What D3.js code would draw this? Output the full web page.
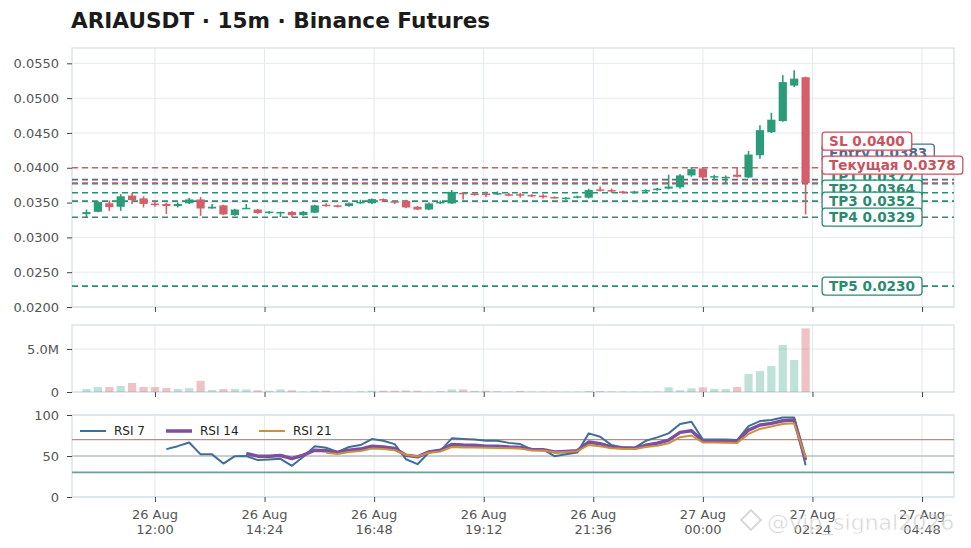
<!DOCTYPE html>
<html><head><meta charset="utf-8">
<script src="https://cdn.jsdelivr.net/npm/d3@7"></script>
<style>
body{margin:0;background:#fff;}
svg{display:block;font-family:"DejaVu Sans",sans-serif;}
</style>
</head><body>
<svg id="chart" width="971" height="548"></svg>
<script>
// ---------------- DATA ----------------
const titleText = "ARIAUSDT · 15m · Binance Futures";
const candleTimes = [
"2025-08-26 10:30","2025-08-26 10:45","2025-08-26 11:00","2025-08-26 11:15","2025-08-26 11:30","2025-08-26 11:45",
"2025-08-26 12:00","2025-08-26 12:15","2025-08-26 12:30","2025-08-26 12:45","2025-08-26 13:00","2025-08-26 13:15",
"2025-08-26 13:30","2025-08-26 13:45","2025-08-26 14:00","2025-08-26 14:15","2025-08-26 14:30","2025-08-26 14:45",
"2025-08-26 15:00","2025-08-26 15:15","2025-08-26 15:30","2025-08-26 15:45","2025-08-26 16:00","2025-08-26 16:15",
"2025-08-26 16:30","2025-08-26 16:45","2025-08-26 17:00","2025-08-26 17:15","2025-08-26 17:30","2025-08-26 17:45",
"2025-08-26 18:00","2025-08-26 18:15","2025-08-26 18:30","2025-08-26 18:45","2025-08-26 19:00","2025-08-26 19:15",
"2025-08-26 19:30","2025-08-26 19:45","2025-08-26 20:00","2025-08-26 20:15","2025-08-26 20:30","2025-08-26 20:45",
"2025-08-26 21:00","2025-08-26 21:15","2025-08-26 21:30","2025-08-26 21:45","2025-08-26 22:00","2025-08-26 22:15",
"2025-08-26 22:30","2025-08-26 22:45","2025-08-26 23:00","2025-08-26 23:15","2025-08-26 23:30","2025-08-26 23:45",
"2025-08-27 00:00","2025-08-27 00:15","2025-08-27 00:30","2025-08-27 00:45","2025-08-27 01:00","2025-08-27 01:15",
"2025-08-27 01:30","2025-08-27 01:45","2025-08-27 02:00","2025-08-27 02:15"];

const opens = [0.03334,0.03367,0.0349,0.0344,0.0360,0.0356,0.03485,0.0348,0.0345,0.0349,
0.03545,0.03415,0.0346,0.0332,0.0341,0.0340,0.0335,0.0335,0.03365,0.0332,
0.03355,0.0347,0.0346,0.0345,0.0349,0.0349,0.0355,0.0352,0.03525,0.0344,
0.0340,0.0349,0.03487,0.0364,0.0363,0.0363,0.0362,0.0362,0.0362,0.0361,
0.0360,0.0358,0.0355,0.0357,0.0357,0.0369,0.0368,0.0366,0.0364,0.0366,
0.0368,0.0370,0.0372,0.0389,0.0399,0.0386,0.0386,0.0390,0.0386,0.0418,
0.0451,0.0467,0.0518,0.0530];
const highs = [0.0340,0.0352,0.0353,0.0362,0.0364,0.0359,0.0353,0.0350,0.0350,0.0357,
0.0358,0.0348,0.0347,0.0341,0.0348,0.0341,0.0338,0.0337,0.0338,0.0338,
0.0347,0.0349,0.0347,0.0350,0.0354,0.0356,0.0356,0.0353,0.0354,0.0345,
0.0350,0.0353,0.0368,0.0365,0.0365,0.0366,0.0366,0.0364,0.0364,0.0362,
0.0362,0.0359,0.0358,0.0360,0.0370,0.0373,0.0370,0.0367,0.0367,0.0369,
0.0371,0.0390,0.0391,0.0401,0.0400,0.0390,0.0389,0.0400,0.0424,0.0461,
0.0479,0.0533,0.0540,0.0531];
const lows = [0.0329,0.0336,0.0338,0.0338,0.0348,0.0343,0.0344,0.03335,0.0343,0.0348,
0.0331,0.0341,0.0332,0.0331,0.0341,0.0334,0.0334,0.0329,0.0329,0.0331,
0.0335,0.0344,0.0343,0.0344,0.0348,0.0348,0.0351,0.0348,0.0342,0.0339,
0.0339,0.0348,0.0348,0.03545,0.0360,0.0358,0.0361,0.0359,0.0357,0.0358,
0.0356,0.0356,0.0354,0.0356,0.0356,0.0366,0.0364,0.0363,0.0363,0.0365,
0.0367,0.0369,0.0370,0.0387,0.0384,0.0383,0.0377,0.0386,0.0385,0.0413,
0.0450,0.0466,0.0516,0.0333];
const closes = [0.03363,0.0351,0.03435,0.0359,0.03535,0.0348,0.03475,0.0345,0.0348,0.03545,
0.03415,0.0344,0.0333,0.0340,0.03425,0.0335,0.0337,0.03365,0.0332,0.03367,
0.0346,0.0345,0.0344,0.0349,0.0351,0.0355,0.0353,0.0351,0.0343,0.0340,
0.03487,0.0351,0.03654,0.0362,0.0362,0.0361,0.03637,0.0361,0.0360,0.0359,
0.0358,0.0357,0.0357,0.0359,0.0368,0.0368,0.0366,0.0364,0.0366,0.0368,
0.0370,0.0373,0.0389,0.0398,0.0386,0.0388,0.0387,0.0387,0.0419,0.0454,
0.0469,0.0523,0.0528,0.0378];
// volume in millions
const volumesM = [0.35,0.58,0.58,0.70,1.05,0.58,0.58,0.47,0.35,0.45,
1.30,0.23,0.35,0.35,0.30,0.20,0.15,0.30,0.20,0.05,
0.15,0.15,0.05,0.05,0.08,0.15,0.15,0.15,0.18,0.15,
0.05,0.10,0.30,0.30,0.12,0.15,0.10,0.05,0.12,0.06,
0.05,0.05,0.03,0.04,0.12,0.10,0.06,0.05,0.05,0.05,
0.06,0.55,0.20,0.43,0.55,0.35,0.35,0.58,2.10,2.44,
3.02,5.47,3.72,7.40];

const rsi7 = [null,null,null,null,null,null,null,58.4,62,66.5,
52,52,40.8,49.8,50,45,45.7,46.5,38,49,
62,60,55,61,63.3,70.6,68.5,64.5,46,40,
54.3,56.3,71.5,70.6,70,68.5,68.5,66,64.5,58,
58,49.8,52,54.3,77.6,73.4,63.3,60,60,68.5,
72.7,77.6,89,91.8,70,70,70,69.4,86.5,92.6,
93.9,97,97,38.8];
const rsi14 = [null,null,null,null,null,null,null,null,null,null,
null,null,null,null,53,49.8,49.8,50.6,47,51,
57,56.3,54.3,57,58.4,62,61,59.2,51,49,
55,57,64,63.3,63,62,62,61,60.5,58,
57.6,55,55.6,56.5,67,65,61,60,59.5,63,
65.5,69.4,78.8,80.8,68.5,68.5,68.3,68,81.6,87.8,
89.8,93,93.9,45];
const rsi21 = [null,null,null,null,null,null,null,null,null,null,
null,null,null,null,null,null,null,null,null,null,
null,54,52.5,55,56,59,58.5,57,51.5,49.5,
54,55.5,61,60.5,60.3,60,59.8,59.3,59,57,
56.8,54.5,55,55.8,63.5,62,59.5,58.8,58.5,61,
62.5,65.5,73,75,66.5,66.5,66.3,66,77,83,
86,89,90,48];

const levelNames  = ["Entry","TP1","TP2","TP3","TP4","TP5","SL","Текущая"];
const levelValues = [0.0383,0.0377,0.0364,0.0352,0.0329,0.0230,0.0400,0.0378];
const levelKinds  = ["entry","tp","tp","tp","tp","tp","sl","cur"];

const xTickTimes = ["2025-08-26 12:00","2025-08-26 14:24","2025-08-26 16:48","2025-08-26 19:12",
                    "2025-08-26 21:36","2025-08-27 00:00","2025-08-27 02:24","2025-08-27 04:48"];
const xDomainTimes = ["2025-08-26 10:11","2025-08-27 05:30"];
const priceTicks = [0.020,0.025,0.030,0.035,0.040,0.045,0.050,0.055];
const priceDomain = [0.020,0.0572];
const volumeTicks = [0,5];
const volumeDomainMax = 7.79;
const rsiTicks = [0,50,100];
const rsiLevels = [70,50,30];
const rsiNames = ["RSI 7","RSI 14","RSI 21"];
const watermarkText = "@vip_signal2026";

// ---------------- STYLE ----------------
const UP = "#2b9b7a", DOWN = "#d45e69";
const GRID = "#e3e9ee", BORDER = "#d3dce3", TICKTXT = "#555";
const kindColor = {entry:"#4f6c98", tp:"#2b8b70", sl:"#c9545f", cur:"#c9545f"};
const lineColor = {entry:"#56698a", tp:"#2e8c72", sl:"#c8616b", cur:"#c25a64"};
const rsiColors = ["#3f6f97","#7e4f9c","#c89142"];
const rsiWidths = [2,3.5,2];
const rsiLevelColors = ["#c98484","#9ea9b1","#6b9e95"];
const rsiLevelWidths = [1.4,1.2,1.8];

// ---------------- LAYOUT ----------------
const L = 72, R = 954;
const P_MAIN = {top:48, bottom:307};
const P_VOL  = {top:325, bottom:392};
const P_RSI  = {top:415, bottom:497};

const parse = d3.utcParse("%Y-%m-%d %H:%M");
const times = candleTimes.map(parse);
const xTicks = xTickTimes.map(parse);
const x = d3.scaleUtc().domain(xDomainTimes.map(parse)).range([L, R]);
const y = d3.scaleLinear().domain(priceDomain).range([P_MAIN.bottom, P_MAIN.top]);
const yv = d3.scaleLinear().domain([0, volumeDomainMax]).range([P_VOL.bottom, P_VOL.top]);
const yr = d3.scaleLinear().domain([0,100]).range([P_RSI.bottom, P_RSI.top]);

const step = x(times[1]) - x(times[0]);
const cw = step * 0.72;

const svg = d3.select("#chart");
svg.append("rect").attr("width",971).attr("height",548).attr("fill","#fff");

// title
svg.append("text").attr("x",71).attr("y",28)
  .attr("font-size",21.6).attr("font-weight","bold").attr("fill","#1b1b1b")
  .text(titleText);

function panelFrame(p, yScale, yTicks, fmt){
  const g = svg.append("g");
  g.selectAll(".gx").data(xTicks).join("line")
    .attr("x1",d=>x(d)).attr("x2",d=>x(d)).attr("y1",p.top).attr("y2",p.bottom)
    .attr("stroke",GRID).attr("stroke-width",1);
  g.selectAll(".gy").data(yTicks).join("line")
    .attr("x1",L).attr("x2",R).attr("y1",d=>yScale(d)).attr("y2",d=>yScale(d))
    .attr("stroke",GRID).attr("stroke-width",1);
  g.append("rect").attr("x",L).attr("y",p.top).attr("width",R-L).attr("height",p.bottom-p.top)
    .attr("fill","none").attr("stroke",BORDER).attr("stroke-width",1.2);
  const ay = svg.append("g").attr("transform",`translate(${L},0)`)
    .call(d3.axisLeft(yScale).tickValues(yTicks).tickFormat(fmt).tickSize(5).tickPadding(8));
  ay.select(".domain").remove();
  ay.selectAll("line").attr("stroke","#444").attr("stroke-width",1);
  ay.selectAll("text").attr("fill",TICKTXT).attr("font-size",13).attr("font-family","DejaVu Sans");
  const ax = svg.append("g").attr("transform",`translate(0,${p.bottom})`)
    .call(d3.axisBottom(x).tickValues(xTicks).tickFormat("").tickSize(5));
  ax.select(".domain").remove();
  ax.selectAll("line").attr("stroke","#444").attr("stroke-width",1);
  return g;
}

panelFrame(P_MAIN, y, priceTicks, d3.format(".4f"));
panelFrame(P_VOL, yv, volumeTicks, d=> d===0 ? "0" : d3.format(".1f")(d)+"M");
panelFrame(P_RSI, yr, rsiTicks, d3.format("d"));

// ---------- level lines ----------
const levels = levelNames.map((n,i)=>({name:n, value:levelValues[i], kind:levelKinds[i]}));
svg.append("g").selectAll("line").data(levels).join("line")
  .attr("x1",L).attr("x2",R).attr("y1",d=>y(d.value)).attr("y2",d=>y(d.value))
  .attr("stroke",d=>lineColor[d.kind]).attr("stroke-width",1.6)
  .attr("stroke-dasharray","6,4");

// ---------- candles ----------
const candles = times.map((t,i)=>({t, o:opens[i], h:highs[i], l:lows[i], c:closes[i], v:volumesM[i]}));
const cg = svg.append("g");
cg.selectAll("line").data(candles).join("line")
  .attr("x1",d=>x(d.t)).attr("x2",d=>x(d.t))
  .attr("y1",d=>y(d.h)).attr("y2",d=>y(d.l))
  .attr("stroke",d=>d.c>=d.o?UP:DOWN).attr("stroke-width",1.6);
cg.selectAll("rect").data(candles).join("rect")
  .attr("x",d=>x(d.t)-cw/2).attr("width",cw)
  .attr("y",d=>y(Math.max(d.o,d.c)))
  .attr("height",d=>Math.max(1.5, Math.abs(y(d.o)-y(d.c))))
  .attr("fill",d=>d.c>=d.o?UP:DOWN);

// ---------- level labels ----------
const lastX = x(times[times.length-1]);
const labelX = lastX + 16.5;
const gap = 12;
const order = levels.slice().sort((a,b)=>a.value-b.value);
let prev = null;
order.forEach(d=>{
  const yy = y(d.value);
  d.ly = prev===null ? yy : Math.min(yy, prev - gap);
  prev = d.ly;
});
const lg = svg.append("g");
levels.forEach(d=>{
  const g = lg.append("g");
  const txt = `${d.name} ${d.value.toFixed(4)}`;
  const r = g.append("rect");
  const t = g.append("text").attr("x",labelX+7).attr("y",d.ly+4.8)
    .attr("font-size",13.6).attr("font-weight","bold").attr("fill",kindColor[d.kind]).text(txt);
  const w = t.node().getComputedTextLength();
  r.attr("x",labelX).attr("y",d.ly-9).attr("width",w+14).attr("height",18)
   .attr("rx",3).attr("fill","#fff").attr("stroke",kindColor[d.kind]).attr("stroke-width",1.3);
});

// ---------- volume ----------
svg.append("g").selectAll("rect").data(candles).join("rect")
  .attr("x",d=>x(d.t)-cw/2).attr("width",cw)
  .attr("y",d=>yv(d.v)).attr("height",d=>yv(0)-yv(d.v))
  .attr("fill",d=>d.c>=d.o?UP:DOWN).attr("fill-opacity",d=>d.c>=d.o?0.3:0.38);

// ---------- RSI ----------
svg.append("g").selectAll("line").data(rsiLevels).join("line")
  .attr("x1",L).attr("x2",R).attr("y1",d=>yr(d)).attr("y2",d=>yr(d))
  .attr("stroke",(d,i)=>rsiLevelColors[i]).attr("stroke-width",(d,i)=>rsiLevelWidths[i]);

const rsiSeries = [rsi7, rsi14, rsi21];
const lineGen = d3.line().defined(d=>d.v!==null).x(d=>x(d.t)).y(d=>yr(d.v));
rsiSeries.forEach((s,k)=>{
  svg.append("path").datum(times.map((t,i)=>({t, v:s[i]})))
    .attr("d",lineGen).attr("fill","none")
    .attr("stroke",rsiColors[k]).attr("stroke-width",rsiWidths[k])
    .attr("stroke-linejoin","round");
});

// legend
const legX = [80,166,259];
const leg = svg.append("g");
rsiNames.forEach((n,k)=>{
  leg.append("line").attr("x1",legX[k]).attr("x2",legX[k]+26).attr("y1",431).attr("y2",431)
    .attr("stroke",rsiColors[k]).attr("stroke-width",rsiWidths[k]);
  leg.append("text").attr("x",legX[k]+34).attr("y",435).attr("font-size",12).attr("fill","#222").text(n);
});

// ---------- x labels ----------
const fD = d3.utcFormat("%d %b"), fT = d3.utcFormat("%H:%M");
const xl = svg.append("g");
xTicks.forEach(t=>{
  const tx = xl.append("text").attr("text-anchor","middle").attr("font-size",13).attr("fill",TICKTXT);
  tx.append("tspan").attr("x",x(t)).attr("y",518.5).text(fD(t));
  tx.append("tspan").attr("x",x(t)).attr("y",534).text(fT(t));
});

// watermark (present in the reference image)
const wm = svg.append("g").attr("opacity",0.55);
wm.append("rect").attr("x",744).attr("y",513).attr("width",14).attr("height",14)
  .attr("transform","rotate(45 751 520)").attr("fill","none").attr("stroke","#b9b9b9").attr("stroke-width",2);
wm.append("text").attr("x",767).attr("y",530).attr("font-size",22).attr("fill","#b4b4b4")
  .attr("stroke","#ffffff").attr("stroke-width",0.5).text(watermarkText);
</script>
</body></html>
